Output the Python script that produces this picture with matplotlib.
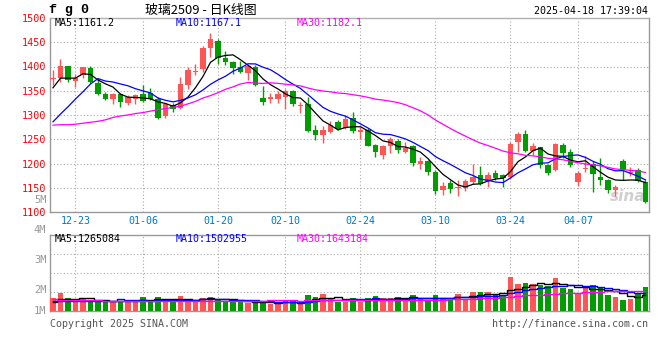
import matplotlib
matplotlib.use("Agg")
import matplotlib.pyplot as plt
import pandas as pd

# trading days shown on the chart (MM-DD)
dates = ["12-18", "12-19", "12-20", "12-23", "12-24", "12-25", "12-26", "12-27", "12-30", "12-31",
         "01-02", "01-03", "01-06", "01-07", "01-08", "01-09", "01-10", "01-13", "01-14", "01-15",
         "01-16", "01-17", "01-20", "01-21", "01-22", "01-23", "01-24", "01-27",
         "02-05", "02-06", "02-07", "02-10", "02-11", "02-12", "02-13", "02-14", "02-17", "02-18",
         "02-19", "02-20", "02-21", "02-24", "02-25", "02-26", "02-27", "02-28",
         "03-03", "03-04", "03-05", "03-06", "03-07", "03-10", "03-11", "03-12", "03-13", "03-14",
         "03-17", "03-18", "03-19", "03-20", "03-21", "03-24", "03-25", "03-26", "03-27", "03-28",
         "03-31", "04-01", "04-02", "04-03", "04-07", "04-08", "04-09", "04-10", "04-11", "04-14",
         "04-15", "04-16", "04-17", "04-18"]
date_ticks = ["12-23", "01-06", "01-20", "02-10", "02-24", "03-10", "03-24", "04-07"]

opens = [1374, 1376, 1401, 1371, 1382, 1397, 1366, 1343, 1333, 1343,
         1324, 1333, 1343, 1346, 1334, 1297, 1321, 1315, 1361, 1389,
         1395, 1438, 1452, 1418, 1410, 1400, 1386, 1399, 1336, 1333,
         1333, 1338, 1350, 1318, 1323, 1270, 1258, 1264, 1285, 1273,
         1293, 1265, 1269, 1239, 1218, 1236, 1247, 1224, 1237, 1200,
         1206, 1183, 1146, 1159, 1150, 1150, 1161, 1177, 1164, 1181,
         1177, 1172, 1245, 1260, 1226, 1233, 1196, 1187, 1239, 1223,
         1161, 1189, 1198, 1173, 1165, 1145, 1206, 1180, 1187, 1161]
highs = [1392, 1416, 1401, 1385, 1400, 1401, 1376, 1348, 1346, 1345,
         1341, 1343, 1362, 1355, 1337, 1325, 1325, 1378, 1399, 1405,
         1443, 1469, 1457, 1432, 1412, 1411, 1403, 1403, 1359, 1345,
         1350, 1353, 1352, 1327, 1337, 1280, 1277, 1287, 1290, 1301,
         1307, 1276, 1273, 1241, 1239, 1254, 1251, 1245, 1239, 1213,
         1208, 1186, 1162, 1167, 1165, 1169, 1199, 1194, 1182, 1186,
         1179, 1245, 1264, 1269, 1243, 1233, 1198, 1243, 1242, 1229,
         1185, 1216, 1205, 1212, 1168, 1156, 1210, 1192, 1190, 1165]
lows = [1362, 1368, 1369, 1358, 1376, 1366, 1341, 1330, 1322, 1316,
        1320, 1322, 1326, 1330, 1292, 1294, 1306, 1312, 1354, 1382,
        1388, 1419, 1405, 1403, 1385, 1386, 1373, 1359, 1321, 1325,
        1325, 1313, 1318, 1305, 1264, 1249, 1242, 1262, 1270, 1271,
        1262, 1251, 1236, 1213, 1210, 1222, 1222, 1222, 1195, 1189,
        1176, 1138, 1135, 1140, 1134, 1143, 1157, 1155, 1151, 1166,
        1152, 1169, 1223, 1223, 1218, 1191, 1176, 1185, 1212, 1192,
        1153, 1182, 1141, 1155, 1140, 1133, 1165, 1175, 1161, 1118]
closes = [1376, 1401, 1373, 1376, 1399, 1369, 1344, 1333, 1343, 1326,
          1338, 1341, 1328, 1334, 1294, 1322, 1312, 1364, 1393, 1391,
          1438, 1457, 1418, 1410, 1397, 1388, 1400, 1361, 1326, 1338,
          1343, 1350, 1323, 1321, 1268, 1258, 1269, 1280, 1272, 1292,
          1266, 1269, 1237, 1224, 1237, 1250, 1227, 1232, 1202, 1206,
          1183, 1144, 1153, 1147, 1151, 1163, 1172, 1157, 1177, 1171,
          1171, 1240, 1260, 1226, 1236, 1196, 1180, 1240, 1222, 1196,
          1180, 1190, 1179, 1165, 1145, 1151, 1186, 1183, 1163, 1120]
# volume in millions
volumes = [1.02, 1.48, 1.08, 0.94, 0.94, 0.81, 0.81, 0.81, 0.81, 0.75,
           0.70, 0.89, 1.16, 0.81, 1.16, 0.89, 0.75, 1.24, 0.89, 0.75,
           1.08, 1.16, 1.00, 0.75, 0.75, 0.75, 0.67, 0.75, 0.75, 0.54,
           0.54, 0.89, 0.81, 0.62, 1.29, 1.16, 1.37, 1.02, 0.75, 0.75,
           1.02, 0.75, 1.02, 1.21, 1.02, 1.02, 1.16, 1.02, 1.29, 0.97,
           0.89, 1.29, 1.02, 1.02, 1.37, 0.97, 1.56, 1.51, 1.56, 1.29,
           1.24, 2.78, 2.18, 2.29, 2.18, 2.10, 2.02, 2.70, 1.83, 1.78,
           1.37, 1.83, 2.10, 1.89, 1.29, 1.16, 0.89, 0.97, 1.43, 1.97]

# moving average values before enough bars are on screen
ma5_head = [1356, 1376, 1376, 1376]
ma10_head = [1286, 1302, 1317, 1333, 1348, 1364, 1375, 1370, 1368]
ma30_head = [1279, 1280, 1280, 1281, 1283, 1285, 1287, 1290, 1295, 1298,
             1300, 1303, 1305, 1308, 1311, 1313, 1316, 1318, 1323, 1328,
             1335, 1340, 1346, 1353, 1358, 1364, 1367, 1366, 1365]
vma5_head = [0.72, 0.97, 0.97, 0.97]
vma10_head = [0.78, 0.82, 0.84, 0.84, 0.84, 0.84, 0.84, 0.84, 0.84]
vma30_head = [0.95, 0.92, 0.90, 0.88, 0.86, 0.85, 0.85, 0.84, 0.84, 0.84,
              0.84, 0.84, 0.84, 0.84, 0.84, 0.84, 0.84, 0.84, 0.84, 0.84,
              0.84, 0.84, 0.84, 0.84, 0.84, 0.84, 0.84, 0.84, 0.84]

price_ticks = [1500, 1450, 1400, 1350, 1300, 1250, 1200, 1150, 1100]
vol_labels = ["5M", "4M", "3M", "2M", "1M"]

RED = "#ff5555"
GREEN = "#009c00"
MONO = "DejaVu Sans Mono"


def with_head(values, n, head):
    s = pd.Series(values).rolling(n).mean().to_numpy()
    s[:len(head)] = head
    return s


ma5 = with_head(closes, 5, ma5_head)
ma10 = with_head(closes, 10, ma10_head)
ma30 = with_head(closes, 30, ma30_head)
vma5 = with_head(volumes, 5, vma5_head)
vma10 = with_head(volumes, 10, vma10_head)
vma30 = with_head(volumes, 30, vma30_head)

fig = plt.figure(figsize=(6.6, 3.6), dpi=100)
W, H = 660, 360
ax = fig.add_axes([50 / W, 1 - 212 / H, 599 / W, 194 / H])
axv = fig.add_axes([50 / W, 1 - 311 / H, 599 / W, 76 / H])

n = len(closes)
x = list(range(n))
xlim = (-0.4, n - 0.53)
grid_kw = dict(color="#aaaaaa", lw=0.8, linestyle=(0, (1, 2)))
tick_pos = [dates.index(d) for d in date_ticks]

# price panel
for i in x:
    o, h, l, c = opens[i], highs[i], lows[i], closes[i]
    col = RED if c >= o else GREEN
    ax.vlines(i, l, h, color=col, lw=1, zorder=3)
    ax.bar(i, max(abs(c - o), 1.2), bottom=min(o, c), width=0.75, color=col, zorder=4)
ax.plot(x, ma5, color="black", lw=0.9, zorder=5)
ax.plot(x, ma10, color="#0000ff", lw=0.9, zorder=5)
ax.plot(x, ma30, color="#ff00ff", lw=0.9, zorder=5)

ax.set_xlim(*xlim)
ax.set_ylim(1100, 1500)
ax.set_yticks(price_ticks)
ax.set_yticklabels([str(p) for p in price_ticks], color="red", fontsize=7.3, family=MONO)
ax.set_xticks(tick_pos)
ax.set_xticklabels(date_ticks, color="#0078c8", fontsize=7.2, family=MONO)
ax.tick_params(length=0, pad=3)
for p in price_ticks[1:-1]:
    ax.axhline(p, **grid_kw, zorder=1)
for t in tick_pos:
    ax.axvline(t, **grid_kw, zorder=1)
for s in ax.spines.values():
    s.set_color("#999999")
    s.set_linewidth(1)
ax.spines["top"].set_color("#b0b0b0")

ax.text(0.008, 0.975, "MA5:1161.2", transform=ax.transAxes, color="black",
        fontsize=7.2, family=MONO, va="center")
ax.text(0.209, 0.975, "MA10:1167.1", transform=ax.transAxes, color="#0000ff",
        fontsize=7.2, family=MONO, va="center")
ax.text(0.411, 0.975, "MA30:1182.1", transform=ax.transAxes, color="#ff00ff",
        fontsize=7.2, family=MONO, va="center")
ax.text(0.965, 0.08, "sina", transform=ax.transAxes, color="#d0d0d0", fontsize=11,
        fontweight="bold", style="italic", ha="center", va="center", zorder=2)

# volume panel
vcols = [RED if closes[i] >= opens[i] else GREEN for i in x]
axv.bar(x, volumes, width=0.75, color=vcols, zorder=3)
axv.plot(x, vma5, color="black", lw=1, drawstyle="steps-mid", zorder=4)
axv.plot(x, vma10, color="#0000ff", lw=1, drawstyle="steps-mid", zorder=4)
axv.plot(x, vma30, color="#ff00ff", lw=1, drawstyle="steps-mid", zorder=4)
axv.set_xlim(*xlim)
axv.set_ylim(0, 6.15)
axv.set_xticks([])
axv.set_yticks([])
for frac in [0.25, 0.5, 0.75]:
    axv.axhline(6.15 * frac, **grid_kw, zorder=1)
for t in tick_pos:
    axv.axvline(t, **grid_kw, zorder=1)
for s in axv.spines.values():
    s.set_color("#999999")
    s.set_linewidth(1)
for lab, frac in zip(vol_labels, [1.46, 1.07, 0.67, 0.28, 0.0]):
    axv.text(-0.006, frac, lab, transform=axv.transAxes, color="#999999", fontsize=7.5,
             family=MONO, ha="right", va="center", clip_on=False)
axv.text(0.008, 0.95, "MA5:1265084", transform=axv.transAxes, color="black",
         fontsize=7.2, family=MONO, va="center")
axv.text(0.209, 0.95, "MA10:1502955", transform=axv.transAxes, color="#0000ff",
         fontsize=7.2, family=MONO, va="center")
axv.text(0.411, 0.95, "MA30:1643184", transform=axv.transAxes, color="#ff00ff",
         fontsize=7.2, family=MONO, va="center")

# header and footer
fig.text(49 / W, 1 - 10 / H, "f g 0", fontsize=9.5, family="Liberation Mono",
         fontweight="bold", va="center")
fig.text(201 / W, 1 - 10 / H, "玻璃2509 - 日K线图", fontsize=9.3,
         family=["Noto Sans CJK SC", "DejaVu Sans"], ha="center", va="center")
fig.text(648 / W, 1 - 11 / H, "2025-04-18 17:39:04", fontsize=7.2, family=MONO,
         ha="right", va="center")
fig.text(50 / W, 1 - 324 / H, "Copyright 2025 SINA.COM", fontsize=7.2, family=MONO,
         color="#555555", va="center")
fig.text(648 / W, 1 - 324 / H, "http://finance.sina.com.cn", fontsize=7.2, family=MONO,
         color="#555555", ha="right", va="center")

fig.savefig("out.png", dpi=100, facecolor="white")
